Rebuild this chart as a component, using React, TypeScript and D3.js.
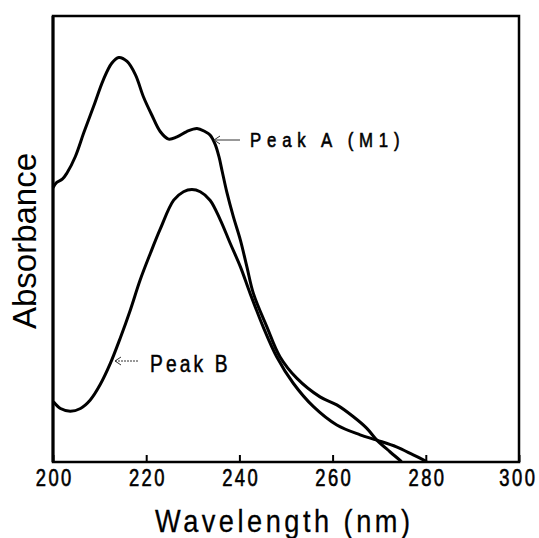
import React, { useEffect, useRef } from 'react';
import * as d3 from 'd3';

// wavelength (nm) and relative absorbance
const peakAWavelength = [200.0, 200.8, 202.0, 203.0, 204.8, 206.6, 208.7, 210.8, 212.6, 214.1, 215.9, 217.7, 219.4, 221.2, 223.0, 224.8, 226.6, 228.7, 230.9, 232.6, 233.7, 234.8, 235.6, 236.3, 237.3, 238.7, 240.2, 241.6, 243.0, 245.9, 248.7, 252.3, 257.3, 260.9, 264.4, 267.3, 269.5, 272.3, 274.8];
const peakAAbsorbance = [0.615, 0.627, 0.634, 0.648, 0.685, 0.738, 0.797, 0.857, 0.894, 0.907, 0.898, 0.868, 0.819, 0.778, 0.741, 0.724, 0.729, 0.741, 0.748, 0.741, 0.733, 0.712, 0.685, 0.652, 0.605, 0.550, 0.498, 0.438, 0.378, 0.303, 0.236, 0.188, 0.146, 0.128, 0.102, 0.076, 0.049, 0.023, 0.001];

const peakBWavelength = [200.1, 201.6, 203.7, 205.9, 208.0, 210.1, 212.3, 214.4, 216.6, 218.7, 220.9, 223.0, 225.9, 228.0, 229.8, 231.6, 233.7, 235.9, 238.0, 240.2, 242.3, 245.1, 248.0, 251.6, 255.9, 260.9, 265.9, 269.5, 273.7, 277.3, 280.2];
const peakBAbsorbance = [0.135, 0.120, 0.114, 0.120, 0.139, 0.173, 0.221, 0.277, 0.341, 0.408, 0.468, 0.522, 0.587, 0.606, 0.611, 0.606, 0.587, 0.543, 0.491, 0.438, 0.378, 0.303, 0.236, 0.176, 0.124, 0.083, 0.061, 0.049, 0.034, 0.016, 0.001];

const xTicks = [200, 220, 240, 260, 280, 300];

const W = 539, H = 538;
const left = 53, right = 519, top = 16, bottom = 462;
const font = 'Liberation Sans, Arial, sans-serif';

const App = () => {
  const axisRef = useRef<SVGGElement>(null);

  const x = d3.scaleLinear().domain([200, 300]).range([left, right]);
  const y = d3.scaleLinear().domain([0, 1]).range([bottom, top]);

  const line = d3.line<[number, number]>()
    .x(d => x(d[0]))
    .y(d => y(d[1]))
    .curve(d3.curveCatmullRom.alpha(0.5));

  const curveA = peakAWavelength.map((w, i) => [w, peakAAbsorbance[i]] as [number, number]);
  const curveB = peakBWavelength.map((w, i) => [w, peakBAbsorbance[i]] as [number, number]);

  useEffect(() => {
    const g = d3.select(axisRef.current);
    g.selectAll('*').remove();
    g.call(
      d3.axisBottom(x)
        .tickValues(xTicks)
        .tickSizeInner(-7)
        .tickSizeOuter(0)
        .tickPadding(8)
        .tickFormat(d3.format('d'))
    );
    g.select('.domain').remove();
    g.selectAll('.tick line').attr('stroke', '#000').attr('stroke-width', 2);
    // narrow, spaced-out digits like the original typesetting
    g.selectAll<SVGTextElement, number>('.tick text')
      .attr('font-family', font)
      .attr('font-size', 23)
      .attr('transform', 'scale(0.8,1)')
      .attr('letter-spacing', 3)
      .attr('dx', d => (d === 300 ? -1.5 : 1.5))
      .attr('stroke', '#000')
      .attr('stroke-width', 0.6)
      .attr('fill', '#000');
  }, []);

  // small open arrow pointing left
  const arrow = (x1: number, x2: number, yy: number, dash?: string) => (
    <g stroke="#333" strokeWidth={1} fill="none">
      <line x1={x1} y1={yy} x2={x2} y2={yy} strokeDasharray={dash} />
      <polyline points={`${x2 + 6},${yy - 4} ${x2},${yy} ${x2 + 6},${yy + 4}`} />
    </g>
  );

  return (
    <svg width={W} height={H} style={{ position: 'absolute', left: 0, top: 0, background: '#fff' }}>
      <rect x={0} y={0} width={W} height={H} fill="#fff" />
      <path d={line(curveA) || ''} fill="none" stroke="#000" strokeWidth={3} />
      <path d={line(curveB) || ''} fill="none" stroke="#000" strokeWidth={3} />
      <rect x={left} y={top} width={right - left} height={bottom - top} fill="none" stroke="#000" strokeWidth={2.5} />
      <line x1={left} y1={top} x2={left} y2={bottom} stroke="#000" strokeWidth={3} />
      <g ref={axisRef} transform={`translate(0,${bottom})`} />
      {arrow(240, 214, 140)}
      {arrow(138, 115, 361, '2,1')}
      <text transform="translate(250,147) scale(0.8,1)" fontFamily={font} fontSize={21} textLength={187} lengthAdjust="spacing" stroke="#000" strokeWidth={0.6}>Peak A (M1)</text>
      <text transform="translate(150,372) scale(0.8,1)" fontFamily={font} fontSize={24} textLength={97} lengthAdjust="spacing" stroke="#000" strokeWidth={0.5}>Peak B</text>
      <text transform="translate(155,532) scale(0.85,1)" fontFamily={font} fontSize={32} textLength={300} lengthAdjust="spacing" stroke="#000" strokeWidth={0.3}>Wavelength (nm)</text>
      <text transform={`translate(36,241) rotate(-90)`} textAnchor="middle" fontFamily={font} fontSize={33}>Absorbance</text>
    </svg>
  );
};

export default App;
